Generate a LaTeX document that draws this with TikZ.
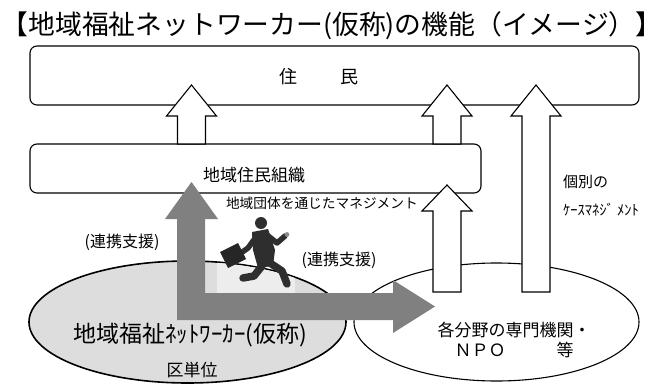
\documentclass[tikz,border=0pt]{standalone}
\usepackage{fontspec}
\setmainfont{Noto Sans CJK JP}
\usetikzlibrary{shapes.geometric}
\definecolor{arrowgray}{HTML}{808080}
\definecolor{ellgray}{HTML}{DDDDDD}
\definecolor{photobg}{HTML}{EDEDED}
\definecolor{suit}{HTML}{2E2E2E}
% upward block arrow: centre x, bottom y, head base y, tip y
\newcommand{\blockup}[4]{%
  \draw[hollow] (#1-14,#2) -- (#1-14,#3) -- (#1-25,#3) -- (#1,#4)
    -- (#1+25,#3) -- (#1+14,#3) -- (#1+14,#2) -- cycle;}
\begin{document}
\begin{tikzpicture}[x=1pt,y=-1pt,
  roundbox/.style={draw=black, line width=1.1pt, rounded corners=7pt,
    fill=white, inner sep=0pt},
  oval/.style={ellipse, draw=black, inner sep=0pt},
  hollow/.style={draw=black, line width=1.1pt, fill=white, line join=miter},
  bigarrow/.style={fill=arrowgray, draw=none},
  txt/.style={inner sep=0pt, text=black},
  fs/.style={font=\fontsize{#1}{#1}\selectfont}]
\useasboundingbox (0,0) rectangle (664,385);

% title
\node[txt, fs=26.8] (title) at (332,26)
  {【地域福祉ネットワーカー(仮称)の機能（イメージ）】};

% residents and local organisations
\node[roundbox, minimum width=609pt, minimum height=59pt] (jumin) at (334.5,75.5) {};
\node[roundbox, minimum width=451pt, minimum height=49pt] (soshiki) at (255.5,168.5) {};

% the two groups at the bottom
\node[oval, fill=ellgray, line width=1.6pt, minimum width=317pt, minimum height=122pt]
  (network) at (187.5,322) {};
\node[oval, fill=white, line width=1.1pt, minimum width=285pt, minimum height=118pt]
  (senmon) at (496.5,322) {};

% running businessman
\begin{scope}
  \clip (187.5,322) ellipse [x radius=157.7, y radius=60.2];
  \fill[photobg] (217,200) rectangle (295,293);
\end{scope}
\begin{scope}[line cap=round, line join=round]
  \fill[suit] (261,223) circle (6);
  \fill[suit] (252,232) -- (268,229) -- (275,250) -- (273,266) -- (258,268) -- (253,250) -- cycle;
  \draw[suit, line width=5.5pt] (267,235) -- (277,243) -- (285,236);
  \fill[black!45] (287,234.5) circle (2.4);
  \draw[suit, line width=5.5pt] (256,237) -- (248,248) -- (241,253);
  \fill[black!85] (220,252) -- (238,243) -- (246,259) -- (228,268) -- cycle;
  \draw[suit, line width=7.5pt] (270,263) -- (282,271) -- (287,284);
  \draw[suit, line width=7.5pt] (262,266) -- (254,276) -- (243,278);
\end{scope}

% hollow arrows towards the residents and the local organisations
\blockup{191.5}{144}{116}{85}
\blockup{447}{144}{116}{85}
\blockup{536}{292}{116}{85}
\blockup{447}{292}{211}{185}

% support arrow out of the network
\fill[bigarrow] (177,219) -- (177,320) -- (393,320) -- (393,333) -- (435,306.5)
  -- (393,280) -- (393,293) -- (205,293) -- (205,219) -- (218,219)
  -- (191.5,182) -- (165,219) -- cycle;

% labels
\node[txt, fs=18] (jumintext) at (319,77) {住\hspace{44pt}民};
\node[txt, fs=17] (soshikitext) at (254,175) {地域住民組織};
\node[txt, fs=13.7, anchor=east] (mgmt) at (418,203) {地域団体を通じたマネジメント};
\node[txt, fs=16] (renkei1) at (122,242) {(連携支援)};
\node[txt, fs=16] (renkei2) at (339,260) {(連携支援)};
\node[txt, fs=15, anchor=west] (kobetsu) at (563,182) {個別の};
\node[txt, fs=14.5, anchor=west] (case) at (563,210) {ｹｰｽﾏﾈｼﾞ ﾒﾝﾄ};
\node[txt, fs=23] (nettext) at (190.5,335) {地域福祉ﾈｯﾄﾜｰｶｰ(仮称)};
\node[txt, fs=17] (kutani) at (192,370) {区単位};
\node[txt, font=\fontsize{17}{20}\selectfont, align=center] (senmontext) at (514,340)
  {各分野の専門機関・\\ＮＰＯ　　　等};
\end{tikzpicture}
\end{document}
